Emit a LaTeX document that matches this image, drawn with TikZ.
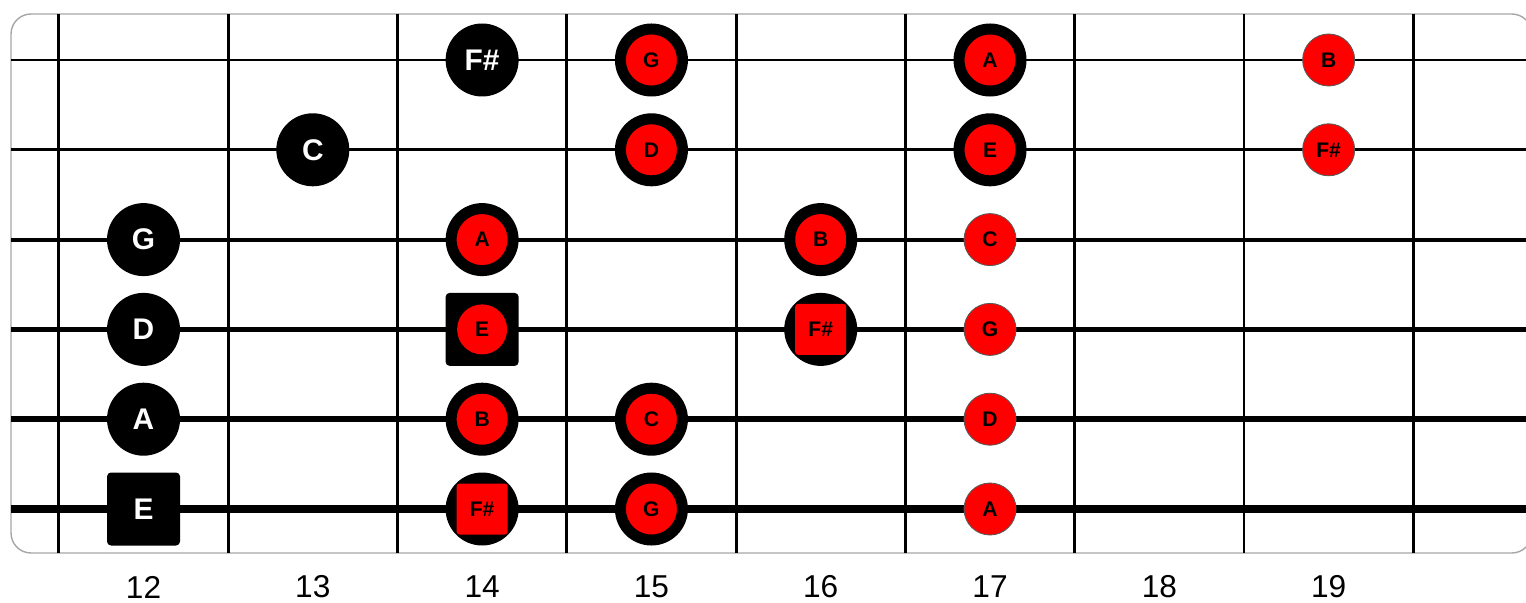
\documentclass[tikz,border=0pt]{standalone}
\usepackage{fontspec}
\setmainfont{Liberation Sans}
\usepackage{tikz}

\begin{document}
\begin{tikzpicture}[
  x=3.386cm, y=-1.796cm,
  board/.style={draw=gray!70, line width=0.8pt, rounded corners=0.4cm},
  fret/.style={line width=1.7pt},
  note/.style={inner sep=0pt, font=\bfseries\fontsize{12}{12}\selectfont},
  root/.style={circle, fill=black, text=white, minimum size=1.46cm, inner sep=0pt,
               font=\bfseries\fontsize{17}{17}\selectfont},
  rootsq/.style={root, rectangle, rounded corners=0.08cm},
  ring/.style={note, circle, fill=red, draw=black, line width=0.22cm, minimum size=1.24cm},
  plain/.style={note, circle, fill=red, draw=black!65, line width=0.5pt, minimum size=1.04cm},
  ringsq/.style={note, circle, fill=black, minimum size=1.46cm,
                 path picture={\fill[red, rounded corners=0.06cm]
                   ([shift={(-0.51cm,-0.51cm)}]path picture bounding box.center)
                   rectangle ++(1.02cm,1.02cm);}},
  sqring/.style={note, rectangle, rounded corners=0.08cm, fill=black, minimum size=1.46cm,
                 path picture={\fill[red] (path picture bounding box.center) circle[radius=0.5cm];}},
  fretnum/.style={font=\fontsize{18}{18}\selectfont}
]
\useasboundingbox (11.15239,0.33185) rectangle (20.16592,7.03564);

% Fretboard
\draw[board] (11.2174,0.4878) rectangle (20.2,6.490);
\foreach \f in {11.5,12.5,...,19.5}
  \draw[fret] (\f,0.4878) -- (\f,6.490);
\foreach \s/\w in {1/1.5pt,2/1.8pt,3/2.3pt,4/2.9pt,5/3.5pt,6/4pt}
  \draw[line width=\w] (11.2174,\s) -- (20.2,\s);

% Fret numbers
\foreach \f in {12,...,19}
  \node[fretnum] (n\f) at (\f,6.869) {\f};

% String 1
\node[root]  (s1f14) at (14,1) {F\#};
\node[ring]  (s1f15) at (15,1) {G};
\node[ring]  (s1f17) at (17,1) {A};
\node[plain] (s1f19) at (19,1) {B};

% String 2
\node[root]  (s2f13) at (13,2) {C};
\node[ring]  (s2f15) at (15,2) {D};
\node[ring]  (s2f17) at (17,2) {E};
\node[plain] (s2f19) at (19,2) {F\#};

% String 3
\node[root]  (s3f12) at (12,3) {G};
\node[ring]  (s3f14) at (14,3) {A};
\node[ring]  (s3f16) at (16,3) {B};
\node[plain] (s3f17) at (17,3) {C};

% String 4
\node[root]   (s4f12) at (12,4) {D};
\node[sqring] (s4f14) at (14,4) {E};
\node[ringsq] (s4f16) at (16,4) {F\#};
\node[plain]  (s4f17) at (17,4) {G};

% String 5
\node[root]  (s5f12) at (12,5) {A};
\node[ring]  (s5f14) at (14,5) {B};
\node[ring]  (s5f15) at (15,5) {C};
\node[plain] (s5f17) at (17,5) {D};

% String 6
\node[rootsq] (s6f12) at (12,6) {E};
\node[ringsq] (s6f14) at (14,6) {F\#};
\node[ring]   (s6f15) at (15,6) {G};
\node[plain]  (s6f17) at (17,6) {A};
\end{tikzpicture}
\end{document}
